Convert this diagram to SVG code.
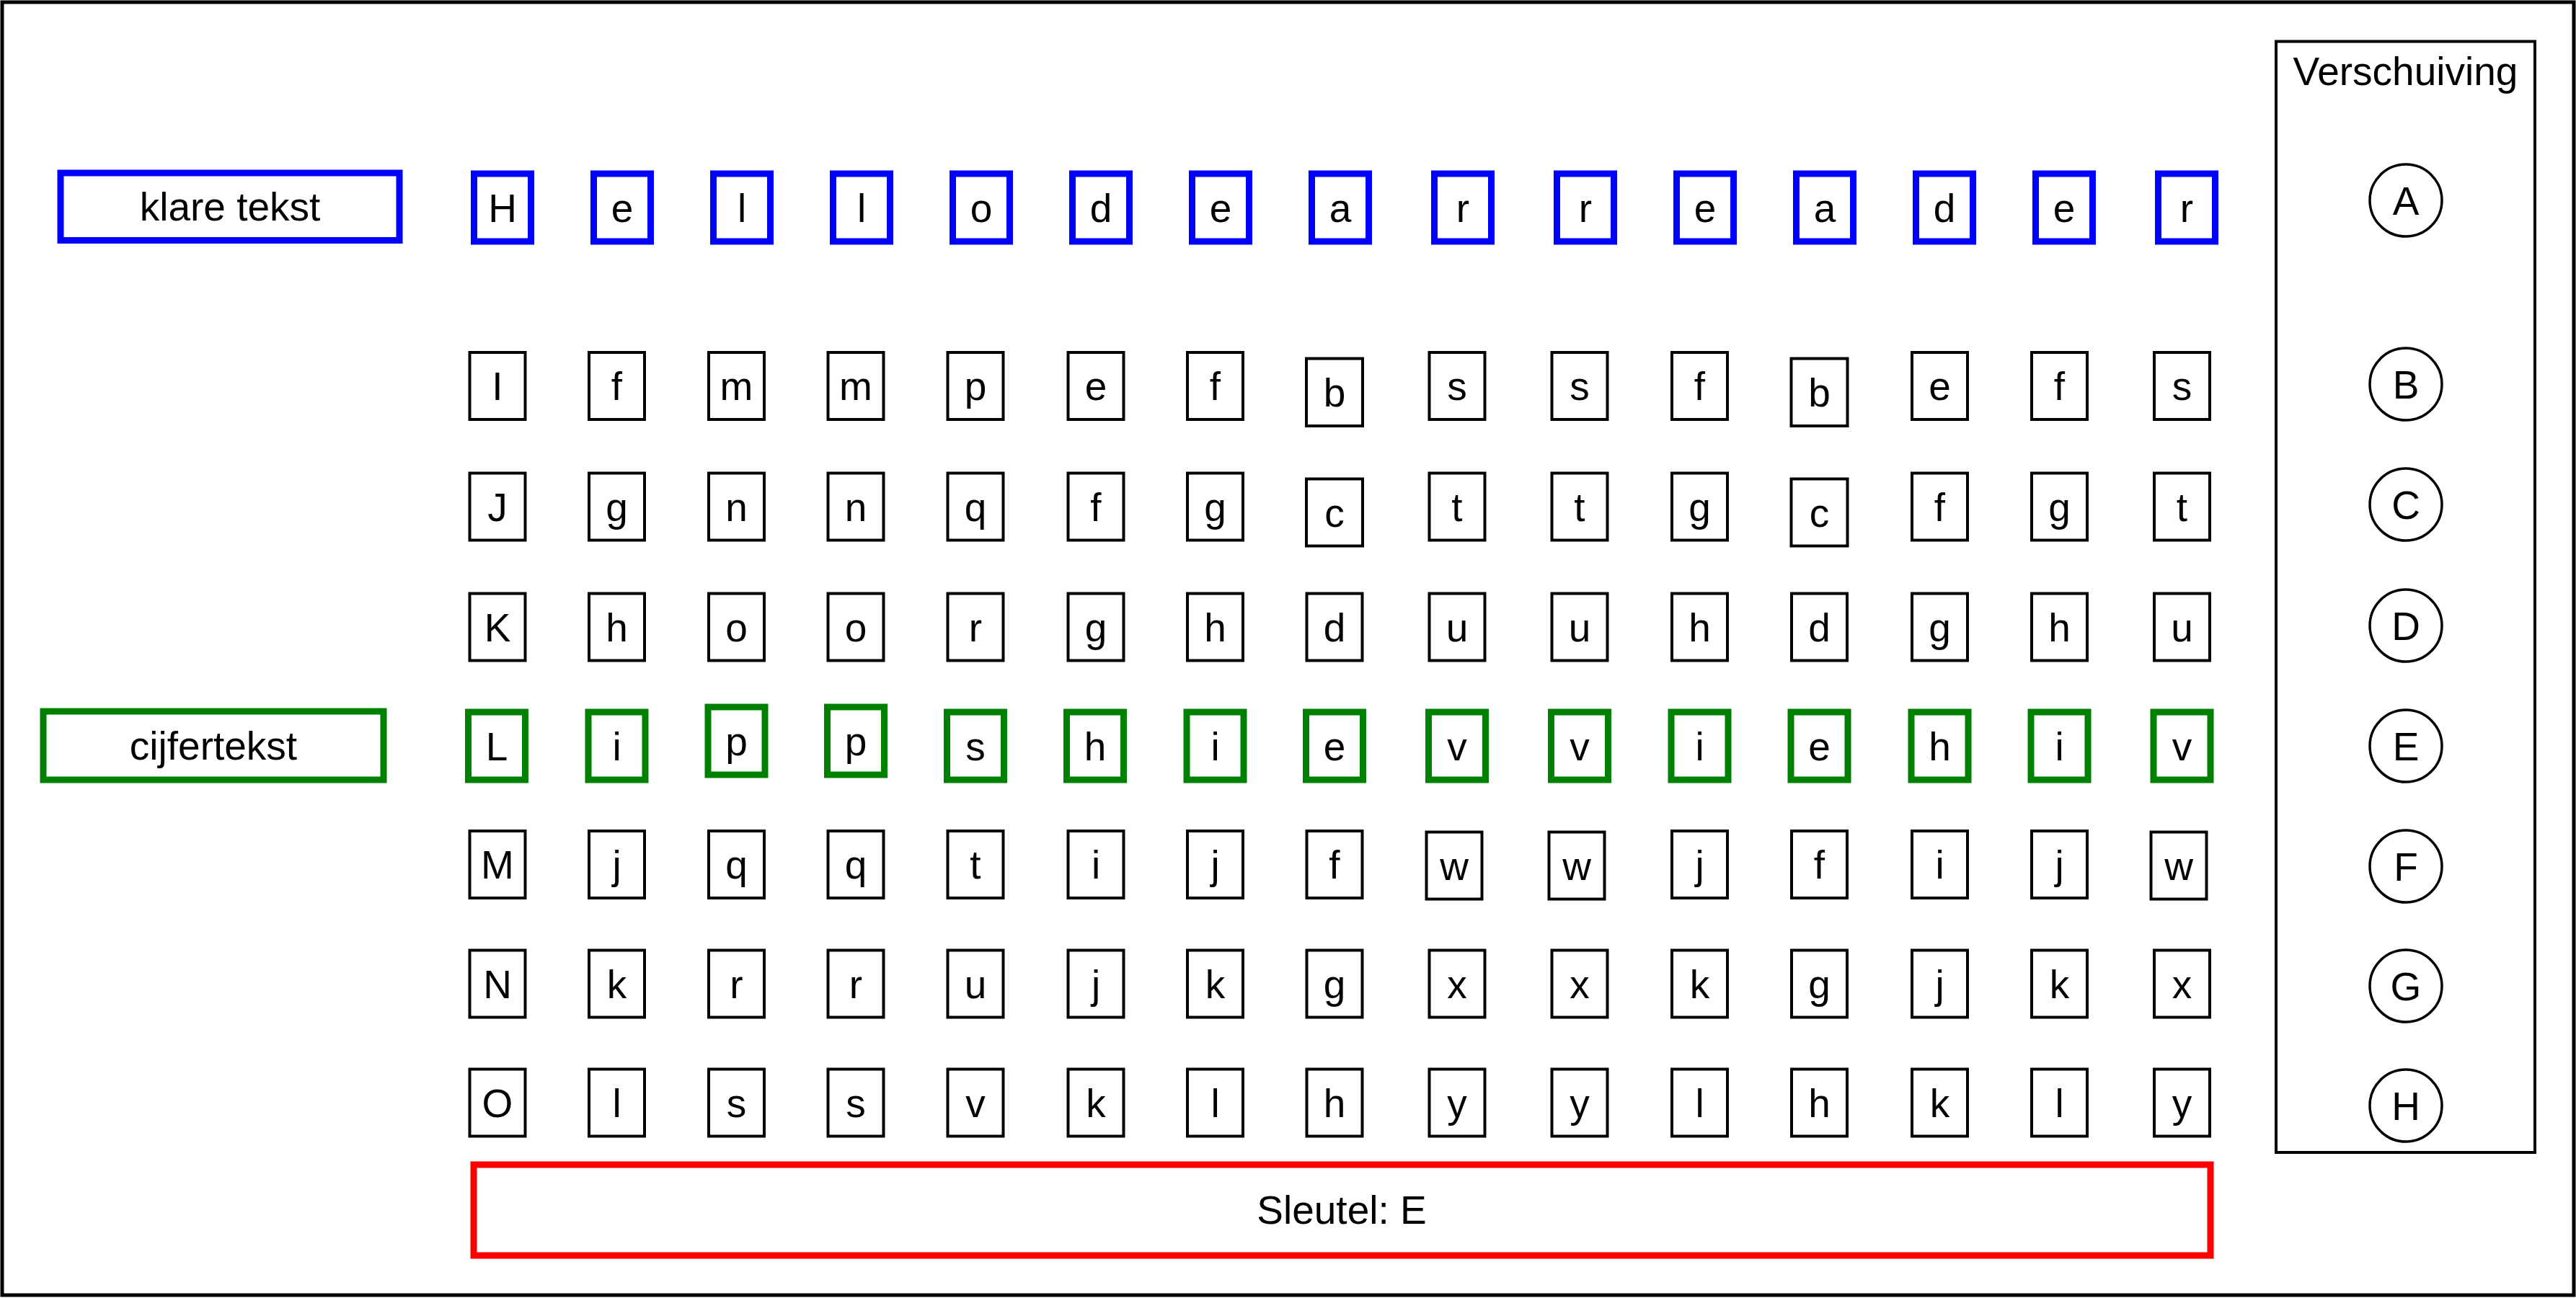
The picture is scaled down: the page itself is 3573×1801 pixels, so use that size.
<svg xmlns="http://www.w3.org/2000/svg" width="3573" height="1801" viewBox="0 0 3573 1801">
<style>
.bk{fill:#fff;stroke:#000;stroke-width:4}
.bl{fill:#fff;stroke:#0000ff;stroke-width:9}
.gr{fill:#fff;stroke:#008000;stroke-width:9}
.rd{fill:#fff;stroke:#ff0000;stroke-width:9}
.ci{fill:#fff;stroke:#000;stroke-width:3.5}
.pn{fill:none;stroke:#000;stroke-width:4}
text{font-family:"Liberation Sans",Arial,sans-serif;font-size:55px;text-anchor:middle;fill:#000}
</style>
<rect x="0" y="0" width="3573" height="1801" fill="#fff"/>
<rect x="3" y="3" width="3567" height="1794" fill="none" stroke="#000" stroke-width="5"/>
<g id="connectors"/>
<g id="klare-tekst"><rect class="bl" x="84" y="240" width="470" height="93.5"/><text x="319" y="306">klare tekst</text></g>
<g id="cijfertekst"><rect class="gr" x="60" y="987" width="472" height="95"/><text x="296" y="1054">cijfertekst</text></g>
<g id="sleutel"><rect class="rd" x="657" y="1616" width="2409" height="126"/><text x="1861" y="1698">Sleutel: E</text></g>
<g id="verschuiving"><rect class="pn" x="3157" y="57.5" width="359" height="1541.5"/><text x="3336.5" y="118">Verschuiving</text></g>
<g id="shift-A"><circle class="ci" cx="3337" cy="278" r="50"/><text x="3337" y="297.5">A</text></g>
<g id="shift-B"><circle class="ci" cx="3337" cy="533" r="50"/><text x="3337" y="552.5">B</text></g>
<g id="shift-C"><circle class="ci" cx="3337" cy="700" r="50"/><text x="3337" y="719.5">C</text></g>
<g id="shift-D"><circle class="ci" cx="3337" cy="868" r="50"/><text x="3337" y="887.5">D</text></g>
<g id="shift-E"><circle class="ci" cx="3337" cy="1035" r="50"/><text x="3337" y="1054.5">E</text></g>
<g id="shift-F"><circle class="ci" cx="3337" cy="1202" r="50"/><text x="3337" y="1221.5">F</text></g>
<g id="shift-G"><circle class="ci" cx="3337" cy="1368" r="50"/><text x="3337" y="1387.5">G</text></g>
<g id="shift-H"><circle class="ci" cx="3337" cy="1534" r="50"/><text x="3337" y="1553.5">H</text></g>

<g id="r1c1"><rect class="bl" x="657.5" y="241" width="79" height="94"/><text x="697" y="307.5">H</text></g>
<g id="r1c2"><rect class="bl" x="823.5" y="241" width="79" height="94"/><text x="863" y="307.5">e</text></g>
<g id="r1c3"><rect class="bl" x="989.5" y="241" width="79" height="94"/><text x="1029" y="307.5">l</text></g>
<g id="r1c4"><rect class="bl" x="1155.5" y="241" width="79" height="94"/><text x="1195" y="307.5">l</text></g>
<g id="r1c5"><rect class="bl" x="1321.5" y="241" width="79" height="94"/><text x="1361" y="307.5">o</text></g>
<g id="r1c6"><rect class="bl" x="1487.5" y="241" width="79" height="94"/><text x="1527" y="307.5">d</text></g>
<g id="r1c7"><rect class="bl" x="1653.5" y="241" width="79" height="94"/><text x="1693" y="307.5">e</text></g>
<g id="r1c8"><rect class="bl" x="1819.5" y="241" width="79" height="94"/><text x="1859" y="307.5">a</text></g>
<g id="r1c9"><rect class="bl" x="1989.5" y="241" width="79" height="94"/><text x="2029" y="307.5">r</text></g>
<g id="r1c10"><rect class="bl" x="2159.5" y="241" width="79" height="94"/><text x="2199" y="307.5">r</text></g>
<g id="r1c11"><rect class="bl" x="2325.5" y="241" width="79" height="94"/><text x="2365" y="307.5">e</text></g>
<g id="r1c12"><rect class="bl" x="2491.5" y="241" width="79" height="94"/><text x="2531" y="307.5">a</text></g>
<g id="r1c13"><rect class="bl" x="2657.5" y="241" width="79" height="94"/><text x="2697" y="307.5">d</text></g>
<g id="r1c14"><rect class="bl" x="2823.5" y="241" width="79" height="94"/><text x="2863" y="307.5">e</text></g>
<g id="r1c15"><rect class="bl" x="2993.5" y="241" width="79" height="94"/><text x="3033" y="307.5">r</text></g>

<g id="r2c1"><rect class="bk" x="651.5" y="489" width="77" height="93"/><text x="690" y="555">I</text></g>
<g id="r2c2"><rect class="bk" x="817" y="489" width="77" height="93"/><text x="855.5" y="555">f</text></g>
<g id="r2c3"><rect class="bk" x="983" y="489" width="77" height="93"/><text x="1021.5" y="555">m</text></g>
<g id="r2c4"><rect class="bk" x="1148.5" y="489" width="77" height="93"/><text x="1187" y="555">m</text></g>
<g id="r2c5"><rect class="bk" x="1314.5" y="489" width="77" height="93"/><text x="1353" y="555">p</text></g>
<g id="r2c6"><rect class="bk" x="1481.5" y="489" width="77" height="93"/><text x="1520" y="555">e</text></g>
<g id="r2c7"><rect class="bk" x="1647" y="489" width="77" height="93"/><text x="1685.5" y="555">f</text></g>
<g id="r2c8"><rect class="bk" x="1812" y="497.5" width="78" height="93.5"/><text x="1851" y="564">b</text></g>
<g id="r2c9"><rect class="bk" x="1982.5" y="489" width="77" height="93"/><text x="2021" y="555">s</text></g>
<g id="r2c10"><rect class="bk" x="2152.5" y="489" width="77" height="93"/><text x="2191" y="555">s</text></g>
<g id="r2c11"><rect class="bk" x="2319" y="489" width="77" height="93"/><text x="2357.5" y="555">f</text></g>
<g id="r2c12"><rect class="bk" x="2484.5" y="497.5" width="78" height="93.5"/><text x="2523.5" y="564">b</text></g>
<g id="r2c13"><rect class="bk" x="2652" y="489" width="77" height="93"/><text x="2690.5" y="555">e</text></g>
<g id="r2c14"><rect class="bk" x="2818" y="489" width="77" height="93"/><text x="2856.5" y="555">f</text></g>
<g id="r2c15"><rect class="bk" x="2988" y="489" width="77" height="93"/><text x="3026.5" y="555">s</text></g>

<g id="r3c1"><rect class="bk" x="651.5" y="656.5" width="77" height="93"/><text x="690" y="722.5">J</text></g>
<g id="r3c2"><rect class="bk" x="817" y="656.5" width="77" height="93"/><text x="855.5" y="722.5">g</text></g>
<g id="r3c3"><rect class="bk" x="983" y="656.5" width="77" height="93"/><text x="1021.5" y="722.5">n</text></g>
<g id="r3c4"><rect class="bk" x="1148.5" y="656.5" width="77" height="93"/><text x="1187" y="722.5">n</text></g>
<g id="r3c5"><rect class="bk" x="1314.5" y="656.5" width="77" height="93"/><text x="1353" y="722.5">q</text></g>
<g id="r3c6"><rect class="bk" x="1481.5" y="656.5" width="77" height="93"/><text x="1520" y="722.5">f</text></g>
<g id="r3c7"><rect class="bk" x="1647" y="656.5" width="77" height="93"/><text x="1685.5" y="722.5">g</text></g>
<g id="r3c8"><rect class="bk" x="1812" y="664.5" width="78" height="93"/><text x="1851" y="730.5">c</text></g>
<g id="r3c9"><rect class="bk" x="1982.5" y="656.5" width="77" height="93"/><text x="2021" y="722.5">t</text></g>
<g id="r3c10"><rect class="bk" x="2152.5" y="656.5" width="77" height="93"/><text x="2191" y="722.5">t</text></g>
<g id="r3c11"><rect class="bk" x="2319" y="656.5" width="77" height="93"/><text x="2357.5" y="722.5">g</text></g>
<g id="r3c12"><rect class="bk" x="2484.5" y="664.5" width="78" height="93"/><text x="2523.5" y="730.5">c</text></g>
<g id="r3c13"><rect class="bk" x="2652" y="656.5" width="77" height="93"/><text x="2690.5" y="722.5">f</text></g>
<g id="r3c14"><rect class="bk" x="2818" y="656.5" width="77" height="93"/><text x="2856.5" y="722.5">g</text></g>
<g id="r3c15"><rect class="bk" x="2988" y="656.5" width="77" height="93"/><text x="3026.5" y="722.5">t</text></g>

<g id="r4c1"><rect class="bk" x="651.5" y="823.5" width="77" height="93"/><text x="690" y="889.5">K</text></g>
<g id="r4c2"><rect class="bk" x="817" y="823.5" width="77" height="93"/><text x="855.5" y="889.5">h</text></g>
<g id="r4c3"><rect class="bk" x="983" y="823.5" width="77" height="93"/><text x="1021.5" y="889.5">o</text></g>
<g id="r4c4"><rect class="bk" x="1148.5" y="823.5" width="77" height="93"/><text x="1187" y="889.5">o</text></g>
<g id="r4c5"><rect class="bk" x="1314.5" y="823.5" width="77" height="93"/><text x="1353" y="889.5">r</text></g>
<g id="r4c6"><rect class="bk" x="1481.5" y="823.5" width="77" height="93"/><text x="1520" y="889.5">g</text></g>
<g id="r4c7"><rect class="bk" x="1647" y="823.5" width="77" height="93"/><text x="1685.5" y="889.5">h</text></g>
<g id="r4c8"><rect class="bk" x="1812.5" y="823.5" width="77" height="93"/><text x="1851" y="889.5">d</text></g>
<g id="r4c9"><rect class="bk" x="1982.5" y="823.5" width="77" height="93"/><text x="2021" y="889.5">u</text></g>
<g id="r4c10"><rect class="bk" x="2152.5" y="823.5" width="77" height="93"/><text x="2191" y="889.5">u</text></g>
<g id="r4c11"><rect class="bk" x="2319" y="823.5" width="77" height="93"/><text x="2357.5" y="889.5">h</text></g>
<g id="r4c12"><rect class="bk" x="2485" y="823.5" width="77" height="93"/><text x="2523.5" y="889.5">d</text></g>
<g id="r4c13"><rect class="bk" x="2652" y="823.5" width="77" height="93"/><text x="2690.5" y="889.5">g</text></g>
<g id="r4c14"><rect class="bk" x="2818" y="823.5" width="77" height="93"/><text x="2856.5" y="889.5">h</text></g>
<g id="r4c15"><rect class="bk" x="2988" y="823.5" width="77" height="93"/><text x="3026.5" y="889.5">u</text></g>

<g id="r5c1"><rect class="gr" x="649.5" y="988" width="79" height="94"/><text x="689" y="1054.5">L</text></g>
<g id="r5c2"><rect class="gr" x="816" y="988" width="79" height="94"/><text x="855.5" y="1054.5">i</text></g>
<g id="r5c3"><rect class="gr" x="982" y="981" width="79" height="94"/><text x="1021.5" y="1047.5">p</text></g>
<g id="r5c4"><rect class="gr" x="1147.5" y="981" width="79" height="94"/><text x="1187" y="1047.5">p</text></g>
<g id="r5c5"><rect class="gr" x="1313.5" y="988" width="79" height="94"/><text x="1353" y="1054.5">s</text></g>
<g id="r5c6"><rect class="gr" x="1479.5" y="988" width="79" height="94"/><text x="1519" y="1054.5">h</text></g>
<g id="r5c7"><rect class="gr" x="1646" y="988" width="79" height="94"/><text x="1685.5" y="1054.5">i</text></g>
<g id="r5c8"><rect class="gr" x="1811.5" y="988" width="79" height="94"/><text x="1851" y="1054.5">e</text></g>
<g id="r5c9"><rect class="gr" x="1981.5" y="988" width="79" height="94"/><text x="2021" y="1054.5">v</text></g>
<g id="r5c10"><rect class="gr" x="2151.5" y="988" width="79" height="94"/><text x="2191" y="1054.5">v</text></g>
<g id="r5c11"><rect class="gr" x="2318" y="988" width="79" height="94"/><text x="2357.5" y="1054.5">i</text></g>
<g id="r5c12"><rect class="gr" x="2484" y="988" width="79" height="94"/><text x="2523.5" y="1054.5">e</text></g>
<g id="r5c13"><rect class="gr" x="2651" y="988" width="79" height="94"/><text x="2690.5" y="1054.5">h</text></g>
<g id="r5c14"><rect class="gr" x="2817" y="988" width="79" height="94"/><text x="2856.5" y="1054.5">i</text></g>
<g id="r5c15"><rect class="gr" x="2987" y="988" width="79" height="94"/><text x="3026.5" y="1054.5">v</text></g>

<g id="r6c1"><rect class="bk" x="651.5" y="1153" width="77" height="93"/><text x="690" y="1219">M</text></g>
<g id="r6c2"><rect class="bk" x="817" y="1153" width="77" height="93"/><text x="855.5" y="1219">j</text></g>
<g id="r6c3"><rect class="bk" x="983" y="1153" width="77" height="93"/><text x="1021.5" y="1219">q</text></g>
<g id="r6c4"><rect class="bk" x="1148.5" y="1153" width="77" height="93"/><text x="1187" y="1219">q</text></g>
<g id="r6c5"><rect class="bk" x="1314.5" y="1153" width="77" height="93"/><text x="1353" y="1219">t</text></g>
<g id="r6c6"><rect class="bk" x="1481.5" y="1153" width="77" height="93"/><text x="1520" y="1219">i</text></g>
<g id="r6c7"><rect class="bk" x="1647" y="1153" width="77" height="93"/><text x="1685.5" y="1219">j</text></g>
<g id="r6c8"><rect class="bk" x="1812.5" y="1153" width="77" height="93"/><text x="1851" y="1219">f</text></g>
<g id="r6c9"><rect class="bk" x="1978.5" y="1154.5" width="77" height="93"/><text x="2017" y="1220.5">w</text></g>
<g id="r6c10"><rect class="bk" x="2148.5" y="1154.5" width="77" height="93"/><text x="2187" y="1220.5">w</text></g>
<g id="r6c11"><rect class="bk" x="2319" y="1153" width="77" height="93"/><text x="2357.5" y="1219">j</text></g>
<g id="r6c12"><rect class="bk" x="2485" y="1153" width="77" height="93"/><text x="2523.5" y="1219">f</text></g>
<g id="r6c13"><rect class="bk" x="2652" y="1153" width="77" height="93"/><text x="2690.5" y="1219">i</text></g>
<g id="r6c14"><rect class="bk" x="2818" y="1153" width="77" height="93"/><text x="2856.5" y="1219">j</text></g>
<g id="r6c15"><rect class="bk" x="2983.5" y="1154.5" width="77" height="93"/><text x="3022" y="1220.5">w</text></g>

<g id="r7c1"><rect class="bk" x="651.5" y="1318.5" width="77" height="93"/><text x="690" y="1384.5">N</text></g>
<g id="r7c2"><rect class="bk" x="817" y="1318.5" width="77" height="93"/><text x="855.5" y="1384.5">k</text></g>
<g id="r7c3"><rect class="bk" x="983" y="1318.5" width="77" height="93"/><text x="1021.5" y="1384.5">r</text></g>
<g id="r7c4"><rect class="bk" x="1148.5" y="1318.5" width="77" height="93"/><text x="1187" y="1384.5">r</text></g>
<g id="r7c5"><rect class="bk" x="1314.5" y="1318.5" width="77" height="93"/><text x="1353" y="1384.5">u</text></g>
<g id="r7c6"><rect class="bk" x="1481.5" y="1318.5" width="77" height="93"/><text x="1520" y="1384.5">j</text></g>
<g id="r7c7"><rect class="bk" x="1647" y="1318.5" width="77" height="93"/><text x="1685.5" y="1384.5">k</text></g>
<g id="r7c8"><rect class="bk" x="1812.5" y="1318.5" width="77" height="93"/><text x="1851" y="1384.5">g</text></g>
<g id="r7c9"><rect class="bk" x="1982.5" y="1318.5" width="77" height="93"/><text x="2021" y="1384.5">x</text></g>
<g id="r7c10"><rect class="bk" x="2152.5" y="1318.5" width="77" height="93"/><text x="2191" y="1384.5">x</text></g>
<g id="r7c11"><rect class="bk" x="2319" y="1318.5" width="77" height="93"/><text x="2357.5" y="1384.5">k</text></g>
<g id="r7c12"><rect class="bk" x="2485" y="1318.5" width="77" height="93"/><text x="2523.5" y="1384.5">g</text></g>
<g id="r7c13"><rect class="bk" x="2652" y="1318.5" width="77" height="93"/><text x="2690.5" y="1384.5">j</text></g>
<g id="r7c14"><rect class="bk" x="2818" y="1318.5" width="77" height="93"/><text x="2856.5" y="1384.5">k</text></g>
<g id="r7c15"><rect class="bk" x="2988" y="1318.5" width="77" height="93"/><text x="3026.5" y="1384.5">x</text></g>

<g id="r8c1"><rect class="bk" x="651.5" y="1483.5" width="77" height="93"/><text x="690" y="1549.5">O</text></g>
<g id="r8c2"><rect class="bk" x="817" y="1483.5" width="77" height="93"/><text x="855.5" y="1549.5">l</text></g>
<g id="r8c3"><rect class="bk" x="983" y="1483.5" width="77" height="93"/><text x="1021.5" y="1549.5">s</text></g>
<g id="r8c4"><rect class="bk" x="1148.5" y="1483.5" width="77" height="93"/><text x="1187" y="1549.5">s</text></g>
<g id="r8c5"><rect class="bk" x="1314.5" y="1483.5" width="77" height="93"/><text x="1353" y="1549.5">v</text></g>
<g id="r8c6"><rect class="bk" x="1481.5" y="1483.5" width="77" height="93"/><text x="1520" y="1549.5">k</text></g>
<g id="r8c7"><rect class="bk" x="1647" y="1483.5" width="77" height="93"/><text x="1685.5" y="1549.5">l</text></g>
<g id="r8c8"><rect class="bk" x="1812.5" y="1483.5" width="77" height="93"/><text x="1851" y="1549.5">h</text></g>
<g id="r8c9"><rect class="bk" x="1982.5" y="1483.5" width="77" height="93"/><text x="2021" y="1549.5">y</text></g>
<g id="r8c10"><rect class="bk" x="2152.5" y="1483.5" width="77" height="93"/><text x="2191" y="1549.5">y</text></g>
<g id="r8c11"><rect class="bk" x="2319" y="1483.5" width="77" height="93"/><text x="2357.5" y="1549.5">l</text></g>
<g id="r8c12"><rect class="bk" x="2485" y="1483.5" width="77" height="93"/><text x="2523.5" y="1549.5">h</text></g>
<g id="r8c13"><rect class="bk" x="2652" y="1483.5" width="77" height="93"/><text x="2690.5" y="1549.5">k</text></g>
<g id="r8c14"><rect class="bk" x="2818" y="1483.5" width="77" height="93"/><text x="2856.5" y="1549.5">l</text></g>
<g id="r8c15"><rect class="bk" x="2988" y="1483.5" width="77" height="93"/><text x="3026.5" y="1549.5">y</text></g>
</svg>
